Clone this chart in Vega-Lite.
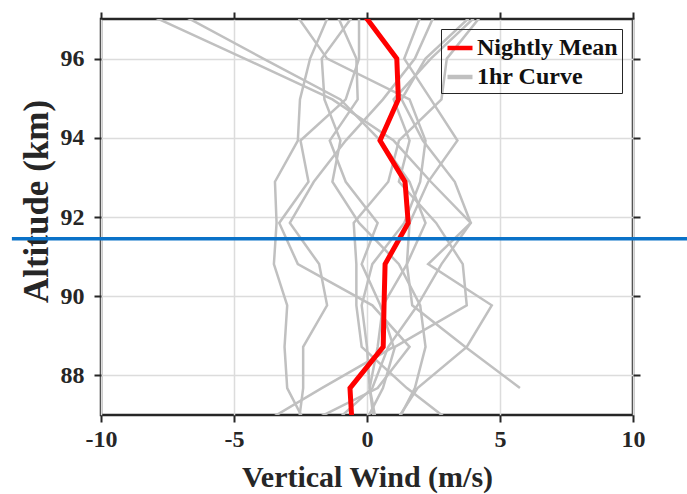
{
  "$schema": "https://vega.github.io/schema/vega-lite/v6.json",
  "width": 532,
  "height": 396,
  "autosize": {"type": "none"},
  "padding": {"left": 101, "top": 19, "right": 54, "bottom": 79},
  "background": "white",
  "config": {
    "view": {"stroke": "#262626", "strokeWidth": 2.5},
    "font": "Liberation Serif",
    "axis": {
      "labelFont": "Liberation Serif", "labelFontWeight": "bold", "labelFontSize": 24, "labelColor": "#262626",
      "titleFont": "Liberation Serif", "titleFontWeight": "bold", "titleFontSize": 30, "titleColor": "#262626",
      "domain": false, "tickColor": "#262626", "tickWidth": 2, "tickSize": 7, "labelFlush": false,
      "gridColor": "#dcdcdc", "gridWidth": 1.5
    }
  },
  "resolve": {"axis": {"x": "independent", "y": "independent"}},
  "datasets": {
    "curves": [
      {"c": "a", "alt": 97.05, "w": -8.0}, {"c": "a", "alt": 96.0, "w": -4.6}, {"c": "a", "alt": 94.97, "w": -1.3}, {"c": "a", "alt": 93.93, "w": 1.0}, {"c": "a", "alt": 92.89, "w": 2.4}, {"c": "a", "alt": 91.85, "w": 3.9}, {"c": "a", "alt": 90.81, "w": 2.8}, {"c": "a", "alt": 89.77, "w": 1.9}, {"c": "a", "alt": 88.72, "w": 0.8}, {"c": "a", "alt": 87.68, "w": 0.2}, {"c": "a", "alt": 86.64, "w": -1.5},
      {"c": "b", "alt": 97.05, "w": -6.8}, {"c": "b", "alt": 96.0, "w": -3.9}, {"c": "b", "alt": 94.97, "w": -1.0}, {"c": "b", "alt": 93.93, "w": 0.5}, {"c": "b", "alt": 92.89, "w": 1.6}, {"c": "b", "alt": 91.85, "w": 2.2}, {"c": "b", "alt": 90.81, "w": 1.5}, {"c": "b", "alt": 89.77, "w": 0.6}, {"c": "b", "alt": 88.72, "w": 0.4}, {"c": "b", "alt": 87.68, "w": 0.1}, {"c": "b", "alt": 86.64, "w": 0.3},
      {"c": "c", "alt": 97.05, "w": -1.47}, {"c": "c", "alt": 96.0, "w": -2.14}, {"c": "c", "alt": 94.97, "w": -2.52}, {"c": "c", "alt": 93.93, "w": -2.6}, {"c": "c", "alt": 92.89, "w": -3.46}, {"c": "c", "alt": 91.85, "w": -3.4}, {"c": "c", "alt": 90.81, "w": -3.5}, {"c": "c", "alt": 89.77, "w": -3.0}, {"c": "c", "alt": 88.72, "w": -3.1}, {"c": "c", "alt": 87.68, "w": -3.0}, {"c": "c", "alt": 86.64, "w": -2.2},
      {"c": "d", "alt": 97.05, "w": -2.6}, {"c": "d", "alt": 96.0, "w": -1.5}, {"c": "d", "alt": 94.97, "w": 1.6}, {"c": "d", "alt": 93.93, "w": 2.2}, {"c": "d", "alt": 92.89, "w": 2.0}, {"c": "d", "alt": 91.85, "w": 1.4}, {"c": "d", "alt": 90.81, "w": 0.2}, {"c": "d", "alt": 89.77, "w": -0.2}, {"c": "d", "alt": 88.72, "w": 0.0}, {"c": "d", "alt": 87.68, "w": 0.1}, {"c": "d", "alt": 86.64, "w": 0.4},
      {"c": "e", "alt": 97.05, "w": -1.09}, {"c": "e", "alt": 96.0, "w": -0.4}, {"c": "e", "alt": 94.97, "w": -0.35}, {"c": "e", "alt": 93.93, "w": -1.4}, {"c": "e", "alt": 92.89, "w": -0.8}, {"c": "e", "alt": 91.85, "w": 0.4}, {"c": "e", "alt": 90.81, "w": -0.2}, {"c": "e", "alt": 89.77, "w": 0.5}, {"c": "e", "alt": 88.72, "w": 1.0}, {"c": "e", "alt": 87.68, "w": -1.7}, {"c": "e", "alt": 86.64, "w": -4.3},
      {"c": "f", "alt": 97.05, "w": -0.56}, {"c": "f", "alt": 96.0, "w": -1.7}, {"c": "f", "alt": 94.97, "w": -1.6}, {"c": "f", "alt": 93.93, "w": -1.0}, {"c": "f", "alt": 92.89, "w": -1.3}, {"c": "f", "alt": 91.85, "w": -0.3}, {"c": "f", "alt": 90.81, "w": 1.2}, {"c": "f", "alt": 89.77, "w": 2.0}, {"c": "f", "alt": 88.72, "w": 2.2}, {"c": "f", "alt": 87.68, "w": 1.8}, {"c": "f", "alt": 86.64, "w": 1.0},
      {"c": "g", "alt": 97.05, "w": 2.0}, {"c": "g", "alt": 96.0, "w": 1.4}, {"c": "g", "alt": 94.97, "w": 2.4}, {"c": "g", "alt": 93.93, "w": 3.4}, {"c": "g", "alt": 92.89, "w": 2.3}, {"c": "g", "alt": 91.85, "w": 1.6}, {"c": "g", "alt": 90.81, "w": 1.5}, {"c": "g", "alt": 89.77, "w": 1.7}, {"c": "g", "alt": 88.72, "w": 3.7}, {"c": "g", "alt": 87.68, "w": 5.75},
      {"c": "h", "alt": 97.05, "w": 2.5}, {"c": "h", "alt": 96.0, "w": 1.8}, {"c": "h", "alt": 94.97, "w": 0.6}, {"c": "h", "alt": 93.93, "w": -0.8}, {"c": "h", "alt": 92.89, "w": -2.0}, {"c": "h", "alt": 91.85, "w": -2.9}, {"c": "h", "alt": 90.81, "w": -1.8}, {"c": "h", "alt": 89.77, "w": -1.5}, {"c": "h", "alt": 88.72, "w": -2.4}, {"c": "h", "alt": 87.68, "w": -2.4}, {"c": "h", "alt": 86.64, "w": -2.6},
      {"c": "i", "alt": 97.05, "w": 3.87}, {"c": "i", "alt": 96.0, "w": 2.2}, {"c": "i", "alt": 94.97, "w": 1.3}, {"c": "i", "alt": 93.93, "w": 2.1}, {"c": "i", "alt": 92.89, "w": 3.3}, {"c": "i", "alt": 91.85, "w": 3.9}, {"c": "i", "alt": 90.81, "w": 2.3}, {"c": "i", "alt": 89.77, "w": 4.69}, {"c": "i", "alt": 88.72, "w": 3.75}, {"c": "i", "alt": 87.68, "w": 1.9}, {"c": "i", "alt": 86.64, "w": 0.9},
      {"c": "j", "alt": 97.05, "w": 4.06}, {"c": "j", "alt": 96.0, "w": 2.4}, {"c": "j", "alt": 94.97, "w": 1.0}, {"c": "j", "alt": 93.93, "w": 1.6}, {"c": "j", "alt": 92.89, "w": 1.2}, {"c": "j", "alt": 91.85, "w": 2.6}, {"c": "j", "alt": 90.81, "w": 3.6}, {"c": "j", "alt": 89.77, "w": 3.75}, {"c": "j", "alt": 88.72, "w": 1.05}, {"c": "j", "alt": 87.68, "w": 0.6}, {"c": "j", "alt": 86.64, "w": -0.2},
      {"c": "k", "alt": 97.05, "w": 4.25}, {"c": "k", "alt": 96.0, "w": 3.0}, {"c": "k", "alt": 94.97, "w": 2.8}, {"c": "k", "alt": 93.93, "w": 1.2}, {"c": "k", "alt": 92.89, "w": 0.8}, {"c": "k", "alt": 91.85, "w": -0.5}, {"c": "k", "alt": 90.81, "w": -0.4}, {"c": "k", "alt": 89.77, "w": -0.4}, {"c": "k", "alt": 88.72, "w": -0.2}, {"c": "k", "alt": 87.68, "w": 1.5}, {"c": "k", "alt": 86.64, "w": 3.5},
      {"c": "l", "alt": 97.05, "w": -0.3}, {"c": "l", "alt": 96.0, "w": -0.3}, {"c": "l", "alt": 94.97, "w": -0.8}, {"c": "l", "alt": 93.93, "w": -2.5}, {"c": "l", "alt": 92.89, "w": -2.2}, {"c": "l", "alt": 91.85, "w": -3.3}, {"c": "l", "alt": 90.81, "w": -2.6}, {"c": "l", "alt": 89.77, "w": 0.2}, {"c": "l", "alt": 88.72, "w": 1.6}, {"c": "l", "alt": 87.68, "w": 0.4}, {"c": "l", "alt": 86.64, "w": -2.7}
    ],
    "mean": [
      {"alt": 97.05, "w": -0.05}, {"alt": 96.0, "w": 1.12}, {"alt": 94.97, "w": 1.18}, {"alt": 93.93, "w": 0.49}, {"alt": 92.89, "w": 1.43}, {"alt": 91.85, "w": 1.55}, {"alt": 90.81, "w": 0.68}, {"alt": 89.77, "w": 0.64}, {"alt": 88.72, "w": 0.61}, {"alt": 87.68, "w": -0.64}, {"alt": 86.64, "w": -0.55}
    ],
    "marker": [
      {"lo": -13.35, "hi": 12.1, "alt": 91.45}
    ]
  },
  "layer": [
    {
      "data": {"name": "curves"},
      "mark": {"type": "line", "strokeWidth": 2.5, "clip": true},
      "encoding": {
        "x": {"field": "w", "type": "quantitative", "scale": {"domain": [-10, 10], "nice": false, "zero": false},
          "axis": {"values": [-10, -5, 0, 5, 10], "title": "Vertical Wind (m/s)", "grid": true, "labelPadding": 5, "titlePadding": 11,
            "labelExpr": "datum.value < 0 ? '-' + abs(datum.value) : '' + datum.value"}},
        "y": {"field": "alt", "type": "quantitative", "scale": {"domain": [87, 97], "nice": false, "zero": false},
          "axis": {"values": [88, 90, 92, 94, 96], "title": "Altitude (km)", "grid": true, "labelPadding": 10, "titlePadding": 6,
            "titleFontSize": 35, "titleY": 182}},
        "color": {"datum": "1hr Curve", "type": "nominal",
          "scale": {"domain": ["Nightly Mean", "1hr Curve"], "range": ["#ff0000", "#c0c0c0"]},
          "legend": {"title": null, "orient": "none", "legendX": 340, "legendY": 10, "direction": "vertical",
            "strokeColor": "#262626", "padding": 4,
            "symbolType": "stroke", "symbolSize": 625, "symbolStrokeWidth": 4.5, "labelOffset": 2,
            "labelFont": "Liberation Serif", "labelFontWeight": "bold", "labelFontSize": 24, "labelColor": "#111111", "rowPadding": 2}},
        "detail": {"field": "c", "type": "nominal"},
        "order": {"field": "alt", "type": "quantitative"}
      }
    },
    {
      "mark": {"type": "rule", "color": "#555555", "strokeWidth": 1.2, "strokeDash": [6, 4]},
      "encoding": {"x": {"datum": 0, "type": "quantitative",
        "axis": {"orient": "top", "values": [-10, -5, 0, 5, 10], "labels": false, "title": null, "grid": false}}}
    },
    {
      "data": {"name": "mean"},
      "mark": {"type": "line", "strokeWidth": 5, "clip": true},
      "encoding": {
        "x": {"field": "w", "type": "quantitative", "axis": null},
        "y": {"field": "alt", "type": "quantitative", "axis": null},
        "color": {"datum": "Nightly Mean", "type": "nominal"},
        "order": {"field": "alt", "type": "quantitative"}
      }
    },
    {
      "data": {"name": "marker"},
      "mark": {"type": "rule", "color": "#0a72c8", "strokeWidth": 3.5, "clip": false},
      "encoding": {
        "x": {"field": "lo", "type": "quantitative", "axis": null},
        "x2": {"field": "hi"},
        "y": {"field": "alt", "type": "quantitative",
          "axis": {"orient": "right", "values": [88, 90, 92, 94, 96], "labels": false, "title": null, "grid": false}}
      }
    }
  ]
}
